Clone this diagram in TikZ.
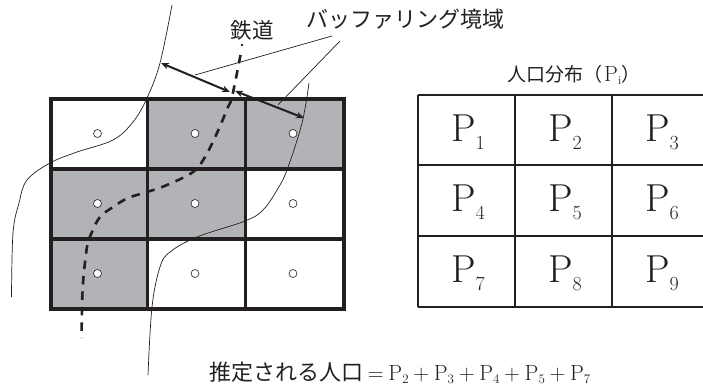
\documentclass[tikz,border=0pt]{standalone}
\usepackage{fontspec}
\newfontfamily\jpfont{Noto Sans CJK JP}
\usetikzlibrary{arrows.meta}
\definecolor{inkc}{HTML}{231F20}
\definecolor{shadec}{HTML}{B1B3B6}
\newcommand{\pcell}[1]{\fontsize{39}{39}\selectfont P\raisebox{-8pt}{\fontsize{20}{20}\selectfont #1}}
\newcommand{\pterm}[1]{P\raisebox{-3.5pt}{\fontsize{13}{13}\selectfont #1}}
\newcommand{\tgap}{\hspace{4.7pt}}
\tikzset{
  thickgrid/.style={draw=inkc,line width=3.2pt},
  tablegrid/.style={draw=inkc,line width=2pt},
  thinline/.style={draw=inkc,line width=0.7pt},
  railline/.style={draw=inkc,line width=2.6pt,dash pattern=on 8.5pt off 7pt},
  spanarrow/.style={draw=inkc,line width=2pt,{Stealth[length=8pt,width=6.5pt]}-{Stealth[length=8pt,width=6.5pt]}},
  meshdot/.style={circle,draw=inkc,fill=white,line width=0.6pt,minimum size=8pt,inner sep=0pt},
  tablecell/.style={text=inkc,inner sep=0pt},
  jplabel/.style={text=inkc,inner sep=0pt}
}
\begin{document}
\begin{tikzpicture}[x=1pt,y=-1pt]
\useasboundingbox (0,0) rectangle (703,389);
% shaded meshes
\fill[shadec] (147.5,99) rectangle (344,169);
\fill[shadec] (51,169) rectangle (245.5,239);
\fill[shadec] (51,239) rectangle (147.5,309);
% buffer edges
\draw[thinline] plot[smooth,tension=0.6] coordinates {(172,5) (160,63) (147,98) (133,122) (113,140) (77,152) (50,163) (27,180) (19,203) (13,233) (11.5,297)};
\draw[thinline] plot[smooth,tension=0.6] coordinates {(309,83) (302,123) (287,170) (277,190) (263,210) (245,221) (197,237) (170,252) (160,267) (152,307) (148,375)};
% left grid
\draw[thickgrid] (147.5,99) -- (147.5,309);
\draw[thickgrid] (245.5,99) -- (245.5,309);
\draw[thickgrid] (51,169) -- (344,169);
\draw[thickgrid] (51,239) -- (344,239);
\draw[thickgrid] (51,99) rectangle (344,309);
% mesh centres
\node[meshdot] (da) at (97.5,133.5) {};
\node[meshdot] (db) at (195,133.5) {};
\node[meshdot] (dc) at (293,133.5) {};
\node[meshdot] (dd) at (97.5,203.5) {};
\node[meshdot] (de) at (195,203.5) {};
\node[meshdot] (df) at (293,203.5) {};
\node[meshdot] (dg) at (97.5,273.5) {};
\node[meshdot] (dh) at (195,273.5) {};
\node[meshdot] (di) at (293,273.5) {};
% railway
\fill[inkc] (242,45) circle (1.3);
\draw[railline] plot[smooth,tension=0.6] coordinates {(240.5,55) (232,97) (228,107) (217,133) (205,157) (193,172) (167,185) (147,192) (128,198) (113,207) (100,217) (92,232) (87,247) (83,283) (82,310) (81.5,338)};
% labels
\node[jplabel] (rail) at (252,30) {\fontsize{21.5}{21.5}\jpfont 鉄道};
\node[jplabel,anchor=west] (buffer) at (306,19) {\fontsize{22}{22}\jpfont バッファリング境域};
\node[jplabel,anchor=west] (poptitle) at (507,75) {\fontsize{19}{19}\jpfont 人口分布（\hspace{2pt}\rmfamily\fontsize{22}{22}\selectfont P\raisebox{-3pt}{\fontsize{12}{12}\selectfont i}\jpfont\fontsize{19}{19}\selectfont ）};
\node[jplabel,anchor=base west] (estimate) at (209,380) {\fontsize{22}{22}\selectfont{\jpfont 推定される人口}\tgap=\tgap\pterm{2}\tgap+\tgap\pterm{3}\tgap+\tgap\pterm{4}\tgap+\tgap\pterm{5}\tgap+\tgap\pterm{7}};
% leaders and widths
\coordinate (leadaend) at (332,36);
\coordinate (leadastart) at (195,75);
\coordinate (leadbend) at (340,41);
\coordinate (leadbstart) at (278,105);
\draw[thinline] (leadastart) -- (leadaend);
\draw[thinline] (leadbstart) -- (leadbend);
\coordinate (wa) at (161,63);
\coordinate (wb) at (230,92);
\coordinate (wc) at (235,91);
\coordinate (wd) at (304,118);
\draw[spanarrow] (wa) -- (wb);
\draw[spanarrow] (wc) -- (wd);
% right table
\draw[tablegrid] (515,95) -- (515,307);
\draw[tablegrid] (612,95) -- (612,307);
\draw[tablegrid] (418,165) -- (703,165);
\draw[tablegrid] (418,236) -- (703,236);
\draw[tablegrid] (418,95) -- (703,95);
\draw[tablegrid] (418,307) -- (703,307);
\draw[tablegrid] (418,95) -- (418,307);
\node[tablecell] (pa) at (468,132) {\pcell{1}};
\node[tablecell] (pb) at (565,132) {\pcell{2}};
\node[tablecell] (pc) at (662,132) {\pcell{3}};
\node[tablecell] (pd) at (468,202) {\pcell{4}};
\node[tablecell] (pe) at (565,202) {\pcell{5}};
\node[tablecell] (pf) at (662,202) {\pcell{6}};
\node[tablecell] (pg) at (468,273) {\pcell{7}};
\node[tablecell] (ph) at (565,273) {\pcell{8}};
\node[tablecell] (pi) at (662,273) {\pcell{9}};
\end{tikzpicture}
\end{document}
